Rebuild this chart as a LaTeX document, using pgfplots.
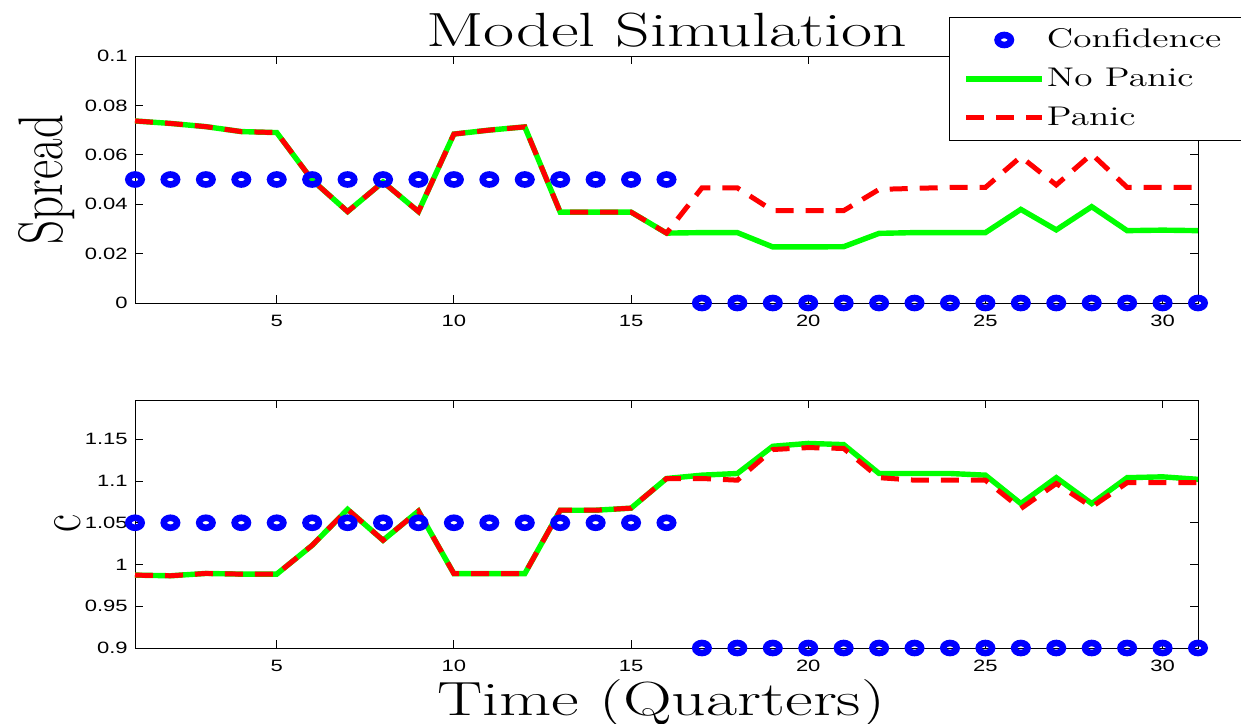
\documentclass[border=0pt]{standalone}
\usepackage{fontspec}
\usepackage{graphicx}
\usepackage{pgfplots}
\pgfplotsset{compat=1.18}
\newfontfamily\ticksf{Liberation Sans}

% picture drawn at 1px = 0.5pt, origin at the top left corner
\pgfplotsset{
  simstyle/.style={
    scale only axis, width=531.5pt,
    xmin=1, xmax=31, xtick={5,10,15,20,25,30},
    tick align=inside, major tick length=4pt,
    axis line style={line width=0.5pt},
    tick style={line width=0.5pt, black},
    clip=false, scaled y ticks=false,
    every tick label/.append style={font=\ticksf\fontsize{8.2}{9.8}\selectfont, inner sep=0pt},
    xticklabel={\scalebox{1.34}[1]{\pgfmathprintnumber[assume math mode=true]{\tick}}},
    yticklabel={\scalebox{1.34}[1]{\pgfmathprintnumber[fixed,precision=2,assume math mode=true]{\tick}}},
    xticklabel style={yshift=-6pt},
    yticklabel style={xshift=-3.5pt},
    legend image code/.code={\draw[mark repeat=2,mark phase=2,##1] plot coordinates {(0pt,0pt) (19pt,0pt) (38pt,0pt)};},
  },
  conf/.style={only marks, mark=o, color=blue, mark size=2.5pt,
    mark options={xscale=1.33, line width=3.3pt},
    legend image code/.code={\draw[mark repeat=2,mark phase=2,##1] plot coordinates {(0pt,0pt) (19pt,0pt) (38pt,0pt)};}},
  nopanic/.style={color=green, line width=2.7pt, no marks},
  panic/.style={color=red, line width=2.5pt, dash pattern=on 9pt off 6pt, no marks},
}

\begin{document}
\begin{tikzpicture}

% Spread
\begin{axis}[simstyle,
  at={(67.5pt,-28pt)}, anchor=north west, height=123.5pt,
  ymin=0, ymax=0.1, ytick={0,0.02,0.04,0.06,0.08,0.1},
  title={\scalebox{1.41}[1]{Model Simulation}},
  title style={font=\fontsize{24}{28}\selectfont, at={(axis description cs:0.5,1)}, anchor=base, yshift=-1pt, inner sep=0pt},
  ylabel={\scalebox{1}[1.34]{Spread}},
  ylabel style={font=\fontsize{23.5}{28}\selectfont, at={(axis description cs:-0.083,0.5)}, anchor=center},
  legend style={at={(0.7658,1.158)}, anchor=north west, draw=black, line width=0.5pt, fill=white,
    inner xsep=7pt, inner ysep=1.5pt, font=\fontsize{13.5}{16}\selectfont, cells={anchor=west},
    nodes={inner xsep=1pt, inner ysep=0pt, minimum height=19.5pt, text width=91pt, align=left}},
  legend cell align=left,
]
\addplot[conf] coordinates {
(1,0.05)(2,0.05)(3,0.05)(4,0.05)(5,0.05)(6,0.05)(7,0.05)(8,0.05)
(9,0.05)(10,0.05)(11,0.05)(12,0.05)(13,0.05)(14,0.05)(15,0.05)(16,0.05)
(17,0)(18,0)(19,0)(20,0)(21,0)(22,0)(23,0)(24,0)
(25,0)(26,0)(27,0)(28,0)(29,0)(30,0)(31,0)};
\addlegendentry{\scalebox{1.38}[1]{Confidence}}
\addplot[nopanic] coordinates {
(1,0.0737)(2,0.0727)(3,0.0714)(4,0.0694)(5,0.0690)(6,0.0498)(7,0.0370)(8,0.0490)
(9,0.0370)(10,0.0684)(11,0.0700)(12,0.0713)(13,0.0368)(14,0.0368)(15,0.0368)(16,0.0283)
(17,0.0285)(18,0.0285)(19,0.0227)(20,0.0227)(21,0.0228)(22,0.0282)(23,0.0285)(24,0.0285)
(25,0.0285)(26,0.0379)(27,0.0296)(28,0.0390)(29,0.0293)(30,0.0295)(31,0.0293)};
\addlegendentry{\scalebox{1.38}[1]{No Panic}}
\addplot[panic] coordinates {
(1,0.0737)(2,0.0727)(3,0.0714)(4,0.0694)(5,0.0690)(6,0.0498)(7,0.0370)(8,0.0490)
(9,0.0370)(10,0.0684)(11,0.0700)(12,0.0713)(13,0.0368)(14,0.0368)(15,0.0368)(16,0.0283)
(17,0.0466)(18,0.0466)(19,0.0374)(20,0.0374)(21,0.0374)(22,0.0460)(23,0.0464)(24,0.0468)
(25,0.0468)(26,0.0592)(27,0.0478)(28,0.0603)(29,0.0468)(30,0.0468)(31,0.0468)};
\addlegendentry{\scalebox{1.38}[1]{Panic}}
\end{axis}

% c
\begin{axis}[simstyle,
  at={(67.5pt,-200pt)}, anchor=north west, height=124pt,
  ymin=0.9, ymax=1.197, ytick={0.9,0.95,1,1.05,1.1,1.15},
  ylabel={\scalebox{1}[1.34]{c}},
  ylabel style={font=\fontsize{22}{26}\selectfont, at={(axis description cs:-0.063,0.5)}, anchor=center},
  xlabel={\scalebox{1.41}[1]{Time (Quarters)}},
  xlabel style={font=\fontsize{24}{28}\selectfont, at={(axis description cs:0.495,0)}, anchor=base, yshift=-33.5pt, inner sep=0pt},
]
\addplot[conf] coordinates {
(1,1.05)(2,1.05)(3,1.05)(4,1.05)(5,1.05)(6,1.05)(7,1.05)(8,1.05)
(9,1.05)(10,1.05)(11,1.05)(12,1.05)(13,1.05)(14,1.05)(15,1.05)(16,1.05)
(17,0.9)(18,0.9)(19,0.9)(20,0.9)(21,0.9)(22,0.9)(23,0.9)(24,0.9)
(25,0.9)(26,0.9)(27,0.9)(28,0.9)(29,0.9)(30,0.9)(31,0.9)};
\addplot[nopanic] coordinates {
(1,0.9873)(2,0.9865)(3,0.9893)(4,0.9885)(5,0.9885)(6,1.023)(7,1.066)(8,1.029)
(9,1.064)(10,0.989)(11,0.989)(12,0.989)(13,1.065)(14,1.065)(15,1.0675)(16,1.103)
(17,1.107)(18,1.109)(19,1.1416)(20,1.145)(21,1.1436)(22,1.109)(23,1.109)(24,1.109)
(25,1.107)(26,1.073)(27,1.104)(28,1.073)(29,1.104)(30,1.105)(31,1.102)};
\addplot[panic] coordinates {
(1,0.9873)(2,0.9865)(3,0.9893)(4,0.9885)(5,0.9885)(6,1.023)(7,1.066)(8,1.029)
(9,1.064)(10,0.989)(11,0.989)(12,0.989)(13,1.065)(14,1.065)(15,1.0675)(16,1.103)
(17,1.103)(18,1.101)(19,1.1377)(20,1.140)(21,1.139)(22,1.104)(23,1.101)(24,1.101)
(25,1.101)(26,1.067)(27,1.097)(28,1.069)(29,1.098)(30,1.098)(31,1.098)};
\end{axis}

\pgfresetboundingbox
\useasboundingbox (0,0) rectangle (620.5pt,-361.5pt);
\end{tikzpicture}
\end{document}
